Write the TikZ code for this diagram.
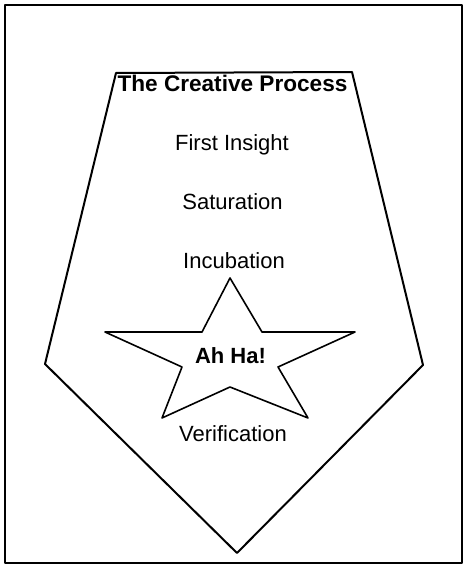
\documentclass[tikz,border=0pt]{standalone}
\usepackage{fontspec}
\setmainfont{Liberation Sans}

\begin{document}
\begin{tikzpicture}[x=0.5pt, y=-0.5pt, line join=round,
  every node/.style={font=\fontsize{11}{13}\selectfont, inner sep=0pt, anchor=base},
  boldlabel/.style={font=\fontsize{11.3}{13}\selectfont\bfseries}]
\useasboundingbox (0,0) rectangle (464,567);
\draw[line width=1pt] (5,5) rectangle (462,563);
% pentagon outline
\draw[line width=1pt] (116,73) -- (352,72) -- (423,365) -- (237,553) -- (45,364) -- cycle;
% star
\draw[line width=0.8pt] (230,278) -- (262,332) -- (355,332) -- (278,367) -- (308,418) -- (230,387)
  -- (162,418) -- (182,367) -- (105,332) -- (202,332) -- cycle;
\node[boldlabel] (title) at (232.5,92) {The Creative Process};
\node (insight) at (232,150) {First Insight};
\node (saturation) at (232.5,209) {Saturation};
\node (incubation) at (234,268) {Incubation};
\node[boldlabel, font=\fontsize{11}{13}\selectfont\bfseries] (ahha) at (230.5,363) {Ah Ha!};
\node (verification) at (233,441) {Verification};
\end{tikzpicture}
\end{document}
